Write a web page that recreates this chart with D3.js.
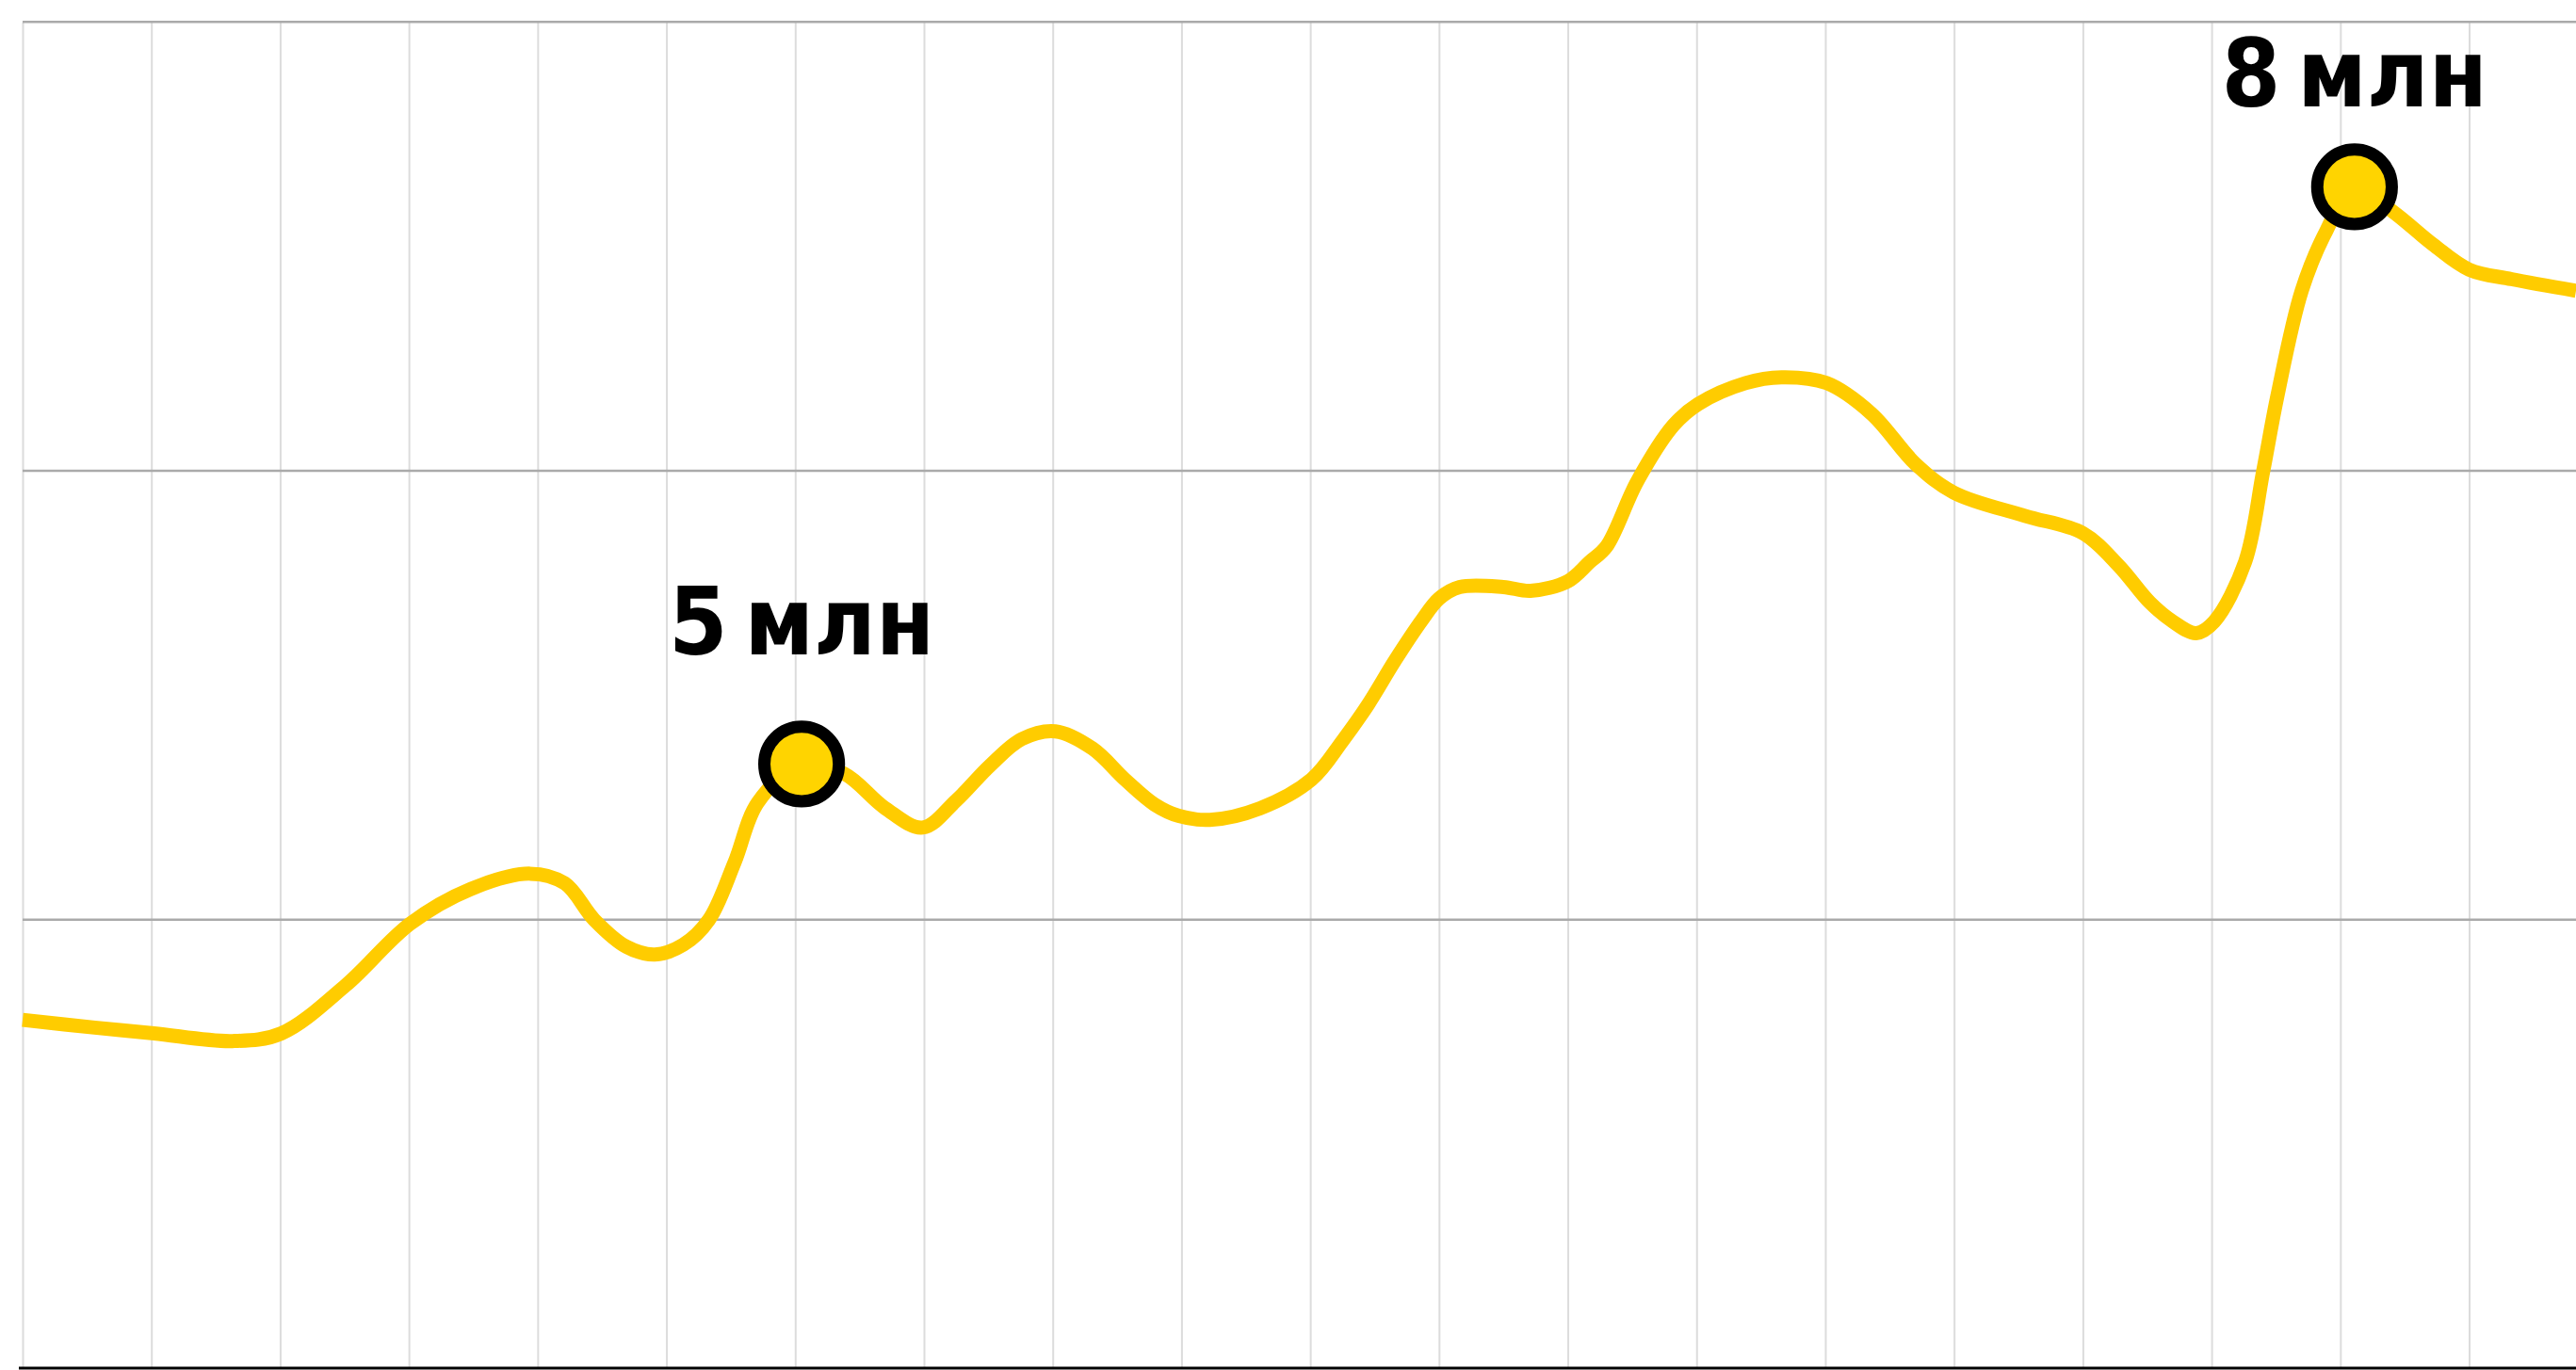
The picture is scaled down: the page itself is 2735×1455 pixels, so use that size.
<!DOCTYPE html>
<html>
<head>
<meta charset="utf-8">
<script src="https://cdn.jsdelivr.net/npm/d3@7"></script>
<style>
  body { margin: 0; background: #fff; }
  svg { display: block; }
</style>
</head>
<body>
<svg width="2735" height="1455"></svg>
<script>
// weeks (position along the x axis, one grid step = 1) and audience in millions
var weeks = [0.00, 0.56, 1.02, 1.63, 2.01, 2.51, 3.01, 3.48, 3.94, 4.21,
  4.44, 4.69, 4.91, 5.13, 5.33, 5.53, 5.71, 6.05, 6.38, 6.70,
  6.99, 7.25, 7.51, 7.76, 8.02, 8.31, 8.56, 8.79, 8.98, 9.22,
  9.61, 10.01, 10.25, 10.45, 10.66, 10.87, 11.00, 11.16, 11.50, 11.71,
  12.00, 12.17, 12.30, 12.54, 12.82, 13.01, 13.38, 13.66, 14.01, 14.36,
  14.70, 15.00, 15.55, 16.00, 16.28, 16.52, 16.70, 16.88, 17.02, 17.26,
  17.40, 17.51, 17.70, 17.89, 18.11, 18.41, 18.72, 19.00, 19.33, 19.83];

var audience = [3.67, 3.63, 3.60, 3.56, 3.60, 3.85, 4.17, 4.35, 4.43, 4.38,
  4.19, 4.05, 4.01, 4.06, 4.19, 4.49, 4.80, 5.00, 4.95, 4.77,
  4.67, 4.81, 4.99, 5.13, 5.17, 5.08, 4.92, 4.79, 4.73, 4.71,
  4.77, 4.92, 5.12, 5.31, 5.54, 5.75, 5.86, 5.92, 5.92, 5.90,
  5.95, 6.05, 6.13, 6.47, 6.76, 6.87, 6.98, 7.01, 6.98, 6.82,
  6.56, 6.41, 6.29, 6.20, 6.03, 5.84, 5.74, 5.68, 5.74, 6.05,
  6.52, 6.91, 7.46, 7.77, 8.00, 7.87, 7.70, 7.57, 7.52, 7.46];

// highlighted points
var markWeeks = [6.05, 18.11];
var markValues = [5, 8];
var markLabels = ["5\u202Fмлн", "8\u202Fмлн"];

var gridWeeks = d3.range(0, 20);
var xDomain = [0, 19.83];
var yDomain = [1.86, 8.86];

var svg = d3.select("svg"),
  width = +svg.attr("width"),
  height = +svg.attr("height");

var plotLeft = 24, plotTop = 22.7, plotBottom = 1453;

var x = d3.scaleLinear().domain(xDomain).range([plotLeft, width]);
var y = d3.scaleLinear().domain(yDomain).range([plotBottom, plotTop]);

var yGrid = d3.range(4).map(function (i) {
  return yDomain[0] + i * (yDomain[1] - yDomain[0]) / 3;
});

// vertical grid
var gx = svg.append("g")
  .attr("transform", "translate(0," + plotBottom + ")")
  .call(d3.axisBottom(x).tickValues(gridWeeks).tickSize(-(plotBottom - plotTop - 1)).tickFormat(""));
gx.select(".domain").remove();
gx.selectAll(".tick line").attr("stroke", "#dcdcdc").attr("stroke-width", 2);

// horizontal grid
var gy = svg.append("g")
  .attr("transform", "translate(" + plotLeft + ",0)")
  .call(d3.axisLeft(y).tickValues(yGrid.slice(1)).tickSize(-(width - plotLeft)).tickFormat(""));
gy.select(".domain").remove();
gy.selectAll(".tick line").attr("stroke", "#aaaaaa").attr("stroke-width", 2.5);

// baseline
svg.append("line")
  .attr("x1", plotLeft - 4)
  .attr("x2", width)
  .attr("y1", y(yDomain[0]))
  .attr("y2", y(yDomain[0]))
  .attr("stroke", "#000")
  .attr("stroke-width", 3);

var line = d3.line()
  .x(function (d, i) { return x(weeks[i]); })
  .y(function (d) { return y(d); })
  .curve(d3.curveCatmullRom.alpha(0.5));

svg.append("path")
  .datum(audience)
  .attr("fill", "none")
  .attr("stroke", "#ffcc00")
  .attr("stroke-width", 15)
  .attr("stroke-linejoin", "round")
  .attr("d", line);

var marks = svg.selectAll(".mark")
  .data(markWeeks)
  .enter()
  .append("g")
  .attr("class", "mark");

marks.append("circle")
  .attr("cx", function (d) { return x(d); })
  .attr("cy", function (d, i) { return y(markValues[i]); })
  .attr("r", 39.6)
  .attr("fill", "#ffd400")
  .attr("stroke", "#000")
  .attr("stroke-width", 13);

marks.append("text")
  .attr("x", function (d) { return x(d); })
  .attr("y", function (d, i) { return Math.max(y(markValues[i]) - 116, plotTop + 90); })
  .attr("text-anchor", "middle")
  .attr("font-family", "'DejaVu Sans Condensed', 'DejaVu Sans'")
  .attr("font-stretch", "condensed")
  .attr("font-weight", "bold")
  .attr("font-size", "100px")
  .attr("fill", "#000")
  .text(function (d, i) { return markLabels[i]; });
</script>
</body>
</html>
